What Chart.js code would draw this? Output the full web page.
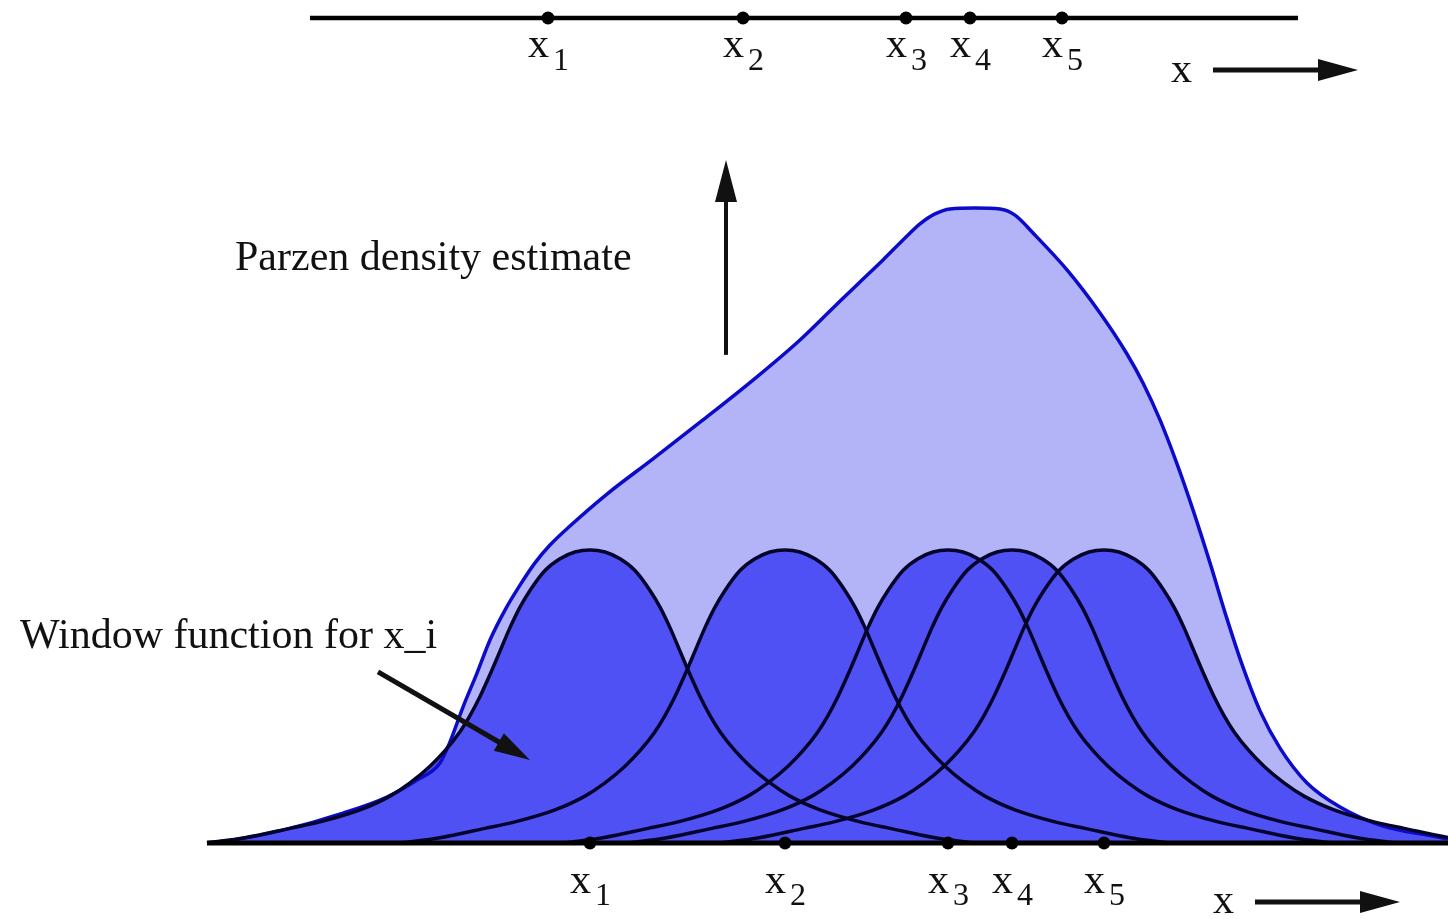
<!DOCTYPE html>
<html>
<head>
<meta charset="utf-8">
<script src="https://cdn.jsdelivr.net/npm/chart.js@4.4.1/dist/chart.umd.min.js"></script>
<style>
  html, body { margin: 0; padding: 0; background: #ffffff; }
  canvas { display: block; }
</style>
</head>
<body>
<canvas id="parzen" width="1448" height="919"></canvas>
<script>
// ---- data -------------------------------------------------------------
// sample positions x_1 .. x_5
const samples = [3.83, 5.78, 7.41, 8.05, 8.97];
const sampleSubscripts = ['1', '2', '3', '4', '5'];

// window function: offset from its sample and height (peak = 1), one side
const windowOffsets = [0, 0.15, 0.30, 0.45, 0.60, 0.70, 0.80, 0.90, 1.00, 1.10, 1.20, 1.30, 1.45, 1.60, 1.80, 2.00, 2.30, 2.70, 3.00, 3.45, 3.83];
const windowHeights = [1.000, 0.993, 0.970, 0.930, 0.862, 0.805, 0.735, 0.655, 0.575, 0.500, 0.435, 0.380, 0.315, 0.262, 0.205, 0.160, 0.113, 0.072, 0.050, 0.018, 0.000];

// Parzen density estimate
const densityX = [0.00, 0.26, 0.76, 1.36, 1.80, 2.10, 2.33, 2.43, 2.56, 2.70, 2.83, 2.98, 3.13, 3.28, 3.43, 3.63, 4.00, 4.46, 4.96, 5.46, 5.93, 6.26, 6.53, 6.76, 6.98, 7.13, 7.28, 7.43, 7.68, 7.93, 8.08, 8.26, 8.60, 8.93, 9.20, 9.36, 9.53, 9.70, 9.86, 10.03, 10.20, 10.36, 10.53, 10.73, 11.00, 11.33, 11.76, 12.26, 12.41];
const densityY = [0.000, 0.010, 0.044, 0.102, 0.157, 0.215, 0.273, 0.345, 0.464, 0.580, 0.693, 0.795, 0.880, 0.956, 1.017, 1.082, 1.191, 1.311, 1.444, 1.580, 1.717, 1.826, 1.915, 1.990, 2.065, 2.113, 2.147, 2.164, 2.167, 2.164, 2.143, 2.082, 1.956, 1.809, 1.669, 1.570, 1.444, 1.294, 1.137, 0.956, 0.765, 0.600, 0.451, 0.324, 0.205, 0.123, 0.058, 0.024, 0.014];

// ---- layout -----------------------------------------------------------
const WIDTH = 1448, HEIGHT = 919;
const PX_PER_X = 100, PX_PER_Y = 293;
const BOTTOM_ORIGIN = { x: 207, y: 843 };   // value 0 of the lower number line
const TOP_ORIGIN = { x: 165, y: 18 };       // value 0 of the upper number line
const BOTTOM_LINE = [0, 12.41];
const TOP_LINE = [1.45, 11.33];
const AXIS_ARROW = { textX: 10.06, from: 10.48, to: 11.93 };

const LIGHT_FILL = '#b3b4f7';
const WINDOW_FILL = '#5051f5';
const DENSITY_LINE = '#0b0bc9';
const WINDOW_LINE = '#05052b';
const INK = '#111111';
const SERIF = '"Liberation Serif", "DejaVu Serif", serif';

function xRange(origin) {
  return { min: -origin / PX_PER_X, max: (WIDTH - origin) / PX_PER_X };
}
function yRange(origin) {
  return { min: (origin - HEIGHT) / PX_PER_Y, max: origin / PX_PER_Y };
}

// ---- datasets ---------------------------------------------------------
const densityPoints = densityX.map((x, i) => ({ x, y: densityY[i] }));

function windowPoints(center) {
  const pts = [];
  for (let i = windowOffsets.length - 1; i > 0; i--) {
    pts.push({ x: center - windowOffsets[i], y: windowHeights[i] });
  }
  for (let i = 0; i < windowOffsets.length; i++) {
    pts.push({ x: center + windowOffsets[i], y: windowHeights[i] });
  }
  return pts;
}

const curveBase = {
  showLine: true,
  pointRadius: 0,
  cubicInterpolationMode: 'monotone',
  xAxisID: 'x',
  yAxisID: 'y'
};

const datasets = [];

datasets.push(Object.assign({}, curveBase, {
  label: 'density fill',
  data: densityPoints,
  fill: 'origin',
  backgroundColor: LIGHT_FILL,
  borderColor: 'transparent',
  borderWidth: 0,
  order: 100
}));

samples.forEach((s, i) => {
  datasets.push(Object.assign({}, curveBase, {
    label: 'window fill ' + (i + 1),
    data: windowPoints(s),
    fill: 'origin',
    backgroundColor: WINDOW_FILL,
    borderColor: 'transparent',
    borderWidth: 0,
    order: 50
  }));
});

datasets.push(Object.assign({}, curveBase, {
  label: 'Parzen density estimate',
  data: densityPoints,
  fill: false,
  borderColor: DENSITY_LINE,
  borderWidth: 3.5,
  order: 30
}));

samples.forEach((s, i) => {
  datasets.push(Object.assign({}, curveBase, {
    label: 'window ' + (i + 1),
    data: windowPoints(s),
    fill: false,
    borderColor: WINDOW_LINE,
    borderWidth: 3.5,
    order: 20
  }));
});

// lower number line and its sample points
datasets.push({
  label: 'lower axis',
  data: BOTTOM_LINE.map(x => ({ x, y: 0 })),
  showLine: true, fill: false, pointRadius: 0,
  borderColor: '#000', borderWidth: 5,
  xAxisID: 'x', yAxisID: 'y', order: 10
});
datasets.push({
  label: 'lower samples',
  data: samples.map(x => ({ x, y: 0 })),
  showLine: false, pointRadius: 6.5,
  backgroundColor: '#000', borderColor: '#000', borderWidth: 0,
  xAxisID: 'x', yAxisID: 'y', order: 5
});

// upper number line and its sample points
datasets.push({
  label: 'upper axis',
  data: TOP_LINE.map(x => ({ x, y: 0 })),
  showLine: true, fill: false, pointRadius: 0,
  borderColor: '#000', borderWidth: 4.5,
  xAxisID: 'xTop', yAxisID: 'yTop', order: 10
});
datasets.push({
  label: 'upper samples',
  data: samples.map(x => ({ x, y: 0 })),
  showLine: false, pointRadius: 6.5,
  backgroundColor: '#000', borderColor: '#000', borderWidth: 0,
  xAxisID: 'xTop', yAxisID: 'yTop', order: 5
});

// ---- text and arrows --------------------------------------------------
function arrow(ctx, x1, y1, x2, y2, width, headLen, headHalf) {
  const a = Math.atan2(y2 - y1, x2 - x1);
  const bx = x2 - headLen * Math.cos(a), by = y2 - headLen * Math.sin(a);
  ctx.lineWidth = width;
  ctx.lineCap = 'butt';
  ctx.beginPath();
  ctx.moveTo(x1, y1);
  ctx.lineTo(bx + 2 * Math.cos(a), by + 2 * Math.sin(a));
  ctx.stroke();
  ctx.beginPath();
  ctx.moveTo(x2, y2);
  ctx.lineTo(bx - headHalf * Math.sin(a), by + headHalf * Math.cos(a));
  ctx.lineTo(bx + headHalf * Math.sin(a), by - headHalf * Math.cos(a));
  ctx.closePath();
  ctx.fill();
}

const annotationPlugin = {
  id: 'parzenAnnotations',
  afterDatasetsDraw(chart) {
    const { ctx, scales } = chart;
    ctx.save();
    ctx.fillStyle = INK;
    ctx.strokeStyle = INK;
    ctx.textBaseline = 'alphabetic';

    const axes = [
      { xs: scales.x, ys: scales.y, xBase: 50, subBase: 62, arrowDy: 59, textDy: 70 },
      { xs: scales.xTop, ys: scales.yTop, xBase: 39, subBase: 52, arrowDy: 52, textDy: 64 }
    ];
    axes.forEach(ax => {
      const lineY = ax.ys.getPixelForValue(0);
      samples.forEach((s, i) => {
        const px = ax.xs.getPixelForValue(s);
        ctx.font = '42px ' + SERIF;
        ctx.textAlign = 'right';
        ctx.fillText('x', px + 1, lineY + ax.xBase);
        ctx.font = '32px ' + SERIF;
        ctx.textAlign = 'left';
        ctx.fillText(sampleSubscripts[i], px + 5, lineY + ax.subBase);
      });
      ctx.font = '42px ' + SERIF;
      ctx.textAlign = 'left';
      ctx.fillText('x', ax.xs.getPixelForValue(AXIS_ARROW.textX), lineY + ax.textDy);
      arrow(ctx,
        ax.xs.getPixelForValue(AXIS_ARROW.from), lineY + ax.arrowDy,
        ax.xs.getPixelForValue(AXIS_ARROW.to), lineY + ax.arrowDy,
        5, 40, 11);
    });

    const X = v => scales.x.getPixelForValue(v);
    const Y = v => scales.y.getPixelForValue(v);

    ctx.textAlign = 'left';
    ctx.font = '42px ' + SERIF;
    ctx.fillText('Parzen density estimate', X(0.28), Y(1.956));
    arrow(ctx, X(5.19), Y(1.666), X(5.19), Y(2.331), 4, 42, 11);

    ctx.font = '42px ' + SERIF;
    ctx.fillText('Window function for x_i', X(-1.87), Y(0.666));
    arrow(ctx, X(1.71), Y(0.584), X(3.23), Y(0.283), 5, 36, 10);

    ctx.restore();
  }
};

// ---- chart ------------------------------------------------------------
new Chart(document.getElementById('parzen'), {
  type: 'scatter',
  data: { datasets },
  options: {
    responsive: false,
    animation: false,
    devicePixelRatio: 1,
    layout: { padding: 0, autoPadding: false },
    plugins: {
      legend: { display: false },
      tooltip: { enabled: false }
    },
    scales: {
      x: Object.assign({ type: 'linear', display: false }, xRange(BOTTOM_ORIGIN.x)),
      y: Object.assign({ type: 'linear', display: false }, yRange(BOTTOM_ORIGIN.y)),
      xTop: Object.assign({ type: 'linear', display: false, axis: 'x' }, xRange(TOP_ORIGIN.x)),
      yTop: Object.assign({ type: 'linear', display: false, axis: 'y' }, yRange(TOP_ORIGIN.y))
    }
  },
  plugins: [annotationPlugin]
});
</script>
</body>
</html>
